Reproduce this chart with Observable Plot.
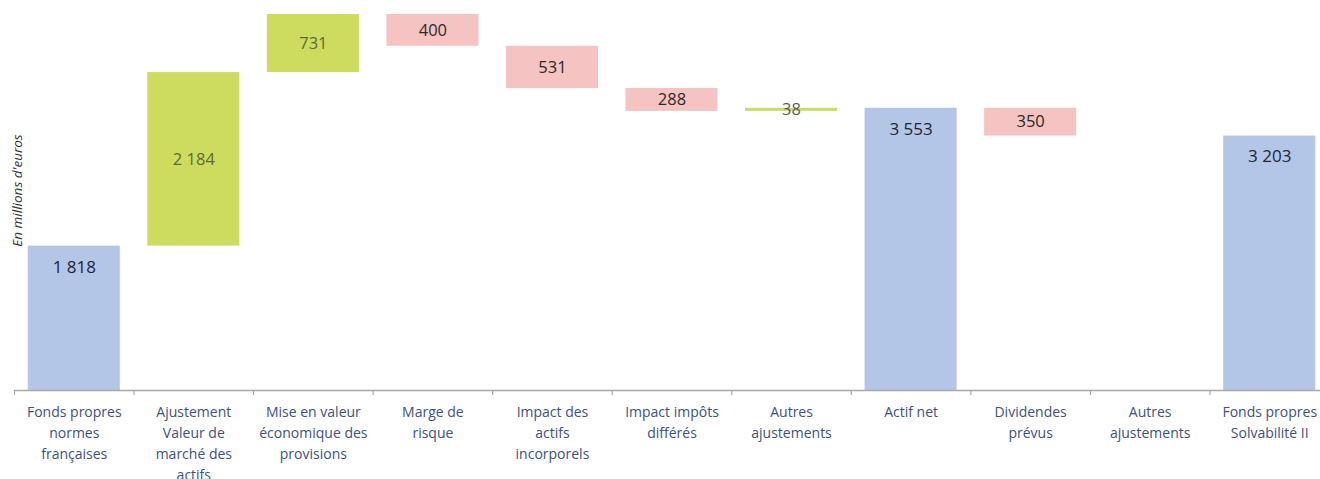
<!DOCTYPE html>
<html>
<head>
<meta charset="utf-8">
<script src="https://cdn.jsdelivr.net/npm/d3@7"></script>
<script src="https://cdn.jsdelivr.net/npm/@observablehq/plot@0.6"></script>
<style>
  html, body { margin: 0; padding: 0; background: #fff; overflow: hidden; }
  #chart { width: 1320px; height: 479px; overflow: hidden; }
</style>
</head>
<body>
<div id="chart"></div>
<script>
// ---- data ----
const categories = [
  "Fonds propres\nnormes\nfrançaises",
  "Ajustement\nValeur de\nmarché des\nactifs",
  "Mise en valeur\néconomique des\nprovisions",
  "Marge de\nrisque",
  "Impact des\nactifs\nincorporels",
  "Impact impôts\ndifférés",
  "Autres\najustements",
  "Actif net",
  "Dividendes\nprévus",
  "Autres\najustements",
  "Fonds propres\nSolvabilité II"
];
const values = [1818, 2184, 731, -400, -531, -288, 38, 3553, -350, 0, 3203];
const kinds  = ["total", "delta", "delta", "delta", "delta", "delta", "delta", "total", "delta", "delta", "total"];
const yTitle = "En millions d'euros";

// ---- styles ----
const barColors = { total: "#b4c6e7", up: "#cddc5e", down: "#f5c3c1" };
const textColors = { total: "#1e2434", up: "#5e6a35", down: "#2a2a2a", small: "#5a5a5a" };

// ---- build waterfall rows ----
let running = 0;
const rows = values.map((v, i) => {
  let y1, y2, type;
  if (kinds[i] === "total") { y1 = 0; y2 = v; running = v; type = "total"; }
  else { y1 = running; y2 = running + v; running = y2; type = v >= 0 ? "up" : "down"; }
  return { i, value: v, y1, y2, type, kind: kinds[i] };
});

const fr = d3.formatLocale({ decimal: ",", thousands: "\u00a0", grouping: [3], currency: ["", " €"] });
const fmt = fr.format(",d");
const yMax = d3.max(rows, d => Math.max(d.y1, d.y2));

const width = 1330, height = 479;
const marginLeft = 14, marginRight = 1, marginTop = 14, marginBottom = 89;
const step = (width - marginLeft - marginRight) / categories.length;

const chart = Plot.plot({
  width, height, marginLeft, marginRight, marginTop, marginBottom,
  style: { fontFamily: "'Open Sans', sans-serif", background: "#fff", maxWidth: "none" },
  x: { domain: d3.range(categories.length), paddingInner: 0.23, paddingOuter: 0.115, round: false, axis: null },
  y: { domain: [0, yMax], axis: null },
  marks: [
    Plot.barY(rows.filter(d => d.value !== 0), { x: "i", y1: "y1", y2: "y2", fill: d => barColors[d.type] }),
    Plot.ruleY([0], { stroke: "#a9a9a9", strokeWidth: 1.5 }),
    Plot.ruleX(d3.range(categories.length), { x: d => d, y1: 0, y2: 0, insetBottom: -5, dx: -step / 2, stroke: "#a9a9a9", strokeWidth: 1.2 }),
    Plot.axisX({ tickSize: 0, tickPadding: 12, label: null, tickFormat: i => categories[i], fontSize: 14, lineHeight: 1.5, fill: "#40517a", fontFamily: "'Open Sans', sans-serif" }),
    // totals: label near top inside the bar
    Plot.text(rows.filter(d => d.kind === "total"), { x: "i", y: "y2", dy: 21, text: d => fmt(d.value), fontSize: 17, fill: textColors.total }),
    // deltas: label centered in the bar
    Plot.text(rows.filter(d => d.kind === "delta" && d.value !== 0), {
      x: "i", y: d => (d.y1 + d.y2) / 2, text: d => fmt(Math.abs(d.value)), fontSize: 16.5,
      fill: d => Math.abs(d.value) < 100 ? textColors.small : textColors[d.type]
    }),
    Plot.text([yTitle], { frameAnchor: "left", textAnchor: "middle", rotate: -90, dx: 3, dy: -12, fontSize: 13.5, fontStyle: "italic", fill: "#333", fontFamily: "'Open Sans', sans-serif" })
  ]
});
document.getElementById("chart").appendChild(chart);
</script>
</body>
</html>
